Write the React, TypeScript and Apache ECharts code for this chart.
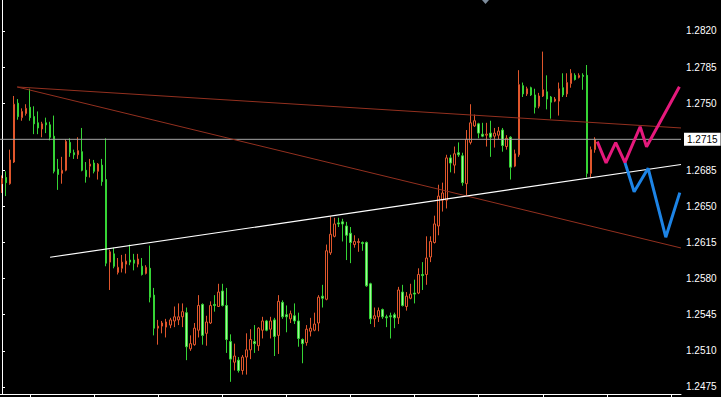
import React, { useEffect, useRef } from "react";
import * as echarts from "echarts";

// Candle prices (4-digit quotes), one per bar
const opens = [
  1.2672, 1.2678, 1.2672, 1.2693, 1.2750, 1.2736, 1.2740, 1.2746, 1.2737, 1.2731,
  1.2725, 1.2731, 1.2729, 1.2718, 1.2686, 1.2682, 1.2685, 1.2712, 1.2702, 1.2700,
  1.2703, 1.2685, 1.2689, 1.2692, 1.2684, 1.2690, 1.2676, 1.2596, 1.2604, 1.2586,
  1.2590, 1.2594, 1.2598, 1.2598, 1.2594, 1.2592, 1.2585, 1.2590, 1.2564, 1.2532,
  1.2534, 1.2533, 1.2535, 1.2539, 1.2540, 1.2543, 1.2547, 1.2512, 1.2516, 1.2530,
  1.2555, 1.2527, 1.2537, 1.2555, 1.2553, 1.2568, 1.2554, 1.2519, 1.2499, 1.2501,
  1.2491, 1.2504, 1.2511, 1.2519, 1.2515, 1.2530, 1.2539, 1.2531, 1.2540, 1.2525,
  1.2557, 1.2545, 1.2541, 1.2544, 1.2539, 1.2521, 1.2518, 1.2529, 1.2530, 1.2537,
  1.2563, 1.2560, 1.2605, 1.2621, 1.2634, 1.2635, 1.2631, 1.2624, 1.2613, 1.2615,
  1.2615, 1.2615, 1.2575, 1.2541, 1.2543, 1.2550, 1.2543, 1.2544, 1.2545, 1.2542,
  1.2567, 1.2553, 1.2561, 1.2566, 1.2566, 1.2584, 1.2584, 1.2601, 1.2615, 1.2631,
  1.2656, 1.2656, 1.2697, 1.2690, 1.2702, 1.2699, 1.2672, 1.2712, 1.2728, 1.2730,
  1.2720, 1.2719, 1.2721, 1.2718, 1.2719, 1.2724, 1.2708, 1.2717, 1.2689, 1.2700,
  1.2767, 1.2759, 1.2765, 1.2758, 1.2747, 1.2757, 1.2761, 1.2756, 1.2752, 1.2752,
  1.2765, 1.2759, 1.2769, 1.2777, 1.2775, 1.2777, 1.2777, 1.2682, 1.2705,
];
const closes = [
  1.2677, 1.2673, 1.2695, 1.2749, 1.2737, 1.2742, 1.2745, 1.2736, 1.2730, 1.2726,
  1.2730, 1.2729, 1.2717, 1.2684, 1.2681, 1.2685, 1.2713, 1.2702, 1.2700, 1.2704,
  1.2685, 1.2679, 1.2691, 1.2684, 1.2691, 1.2674, 1.2595, 1.2606, 1.2592, 1.2591,
  1.2596, 1.2597, 1.2596, 1.2595, 1.2599, 1.2584, 1.2591, 1.2562, 1.2532, 1.2534,
  1.2537, 1.2538, 1.2540, 1.2543, 1.2543, 1.2548, 1.2514, 1.2517, 1.2532, 1.2554,
  1.2525, 1.2538, 1.2554, 1.2554, 1.2567, 1.2554, 1.2521, 1.2502, 1.2505, 1.2491,
  1.2504, 1.2511, 1.2521, 1.2517, 1.2532, 1.2539, 1.2530, 1.2539, 1.2524, 1.2558,
  1.2543, 1.2543, 1.2546, 1.2539, 1.2522, 1.2517, 1.2531, 1.2532, 1.2536, 1.2562,
  1.2561, 1.2607, 1.2623, 1.2633, 1.2633, 1.2633, 1.2622, 1.2615, 1.2616, 1.2616,
  1.2614, 1.2573, 1.2541, 1.2544, 1.2549, 1.2543, 1.2542, 1.2543, 1.2542, 1.2569,
  1.2554, 1.2563, 1.2565, 1.2565, 1.2584, 1.2583, 1.2600, 1.2616, 1.2633, 1.2660,
  1.2663, 1.2697, 1.2692, 1.2701, 1.2700, 1.2673, 1.2715, 1.2731, 1.2733, 1.2721,
  1.2718, 1.2720, 1.2717, 1.2721, 1.2723, 1.2709, 1.2716, 1.2688, 1.2701, 1.2768,
  1.2759, 1.2764, 1.2758, 1.2746, 1.2757, 1.2763, 1.2754, 1.2751, 1.2754, 1.2764,
  1.2758, 1.2770, 1.2779, 1.2773, 1.2777, 1.2776, 1.2682, 1.2705, 1.2715,
];
const lows = [
  1.2663, 1.2660, 1.2671, 1.2692, 1.2734, 1.2733, 1.2738, 1.2733, 1.2720, 1.2720,
  1.2717, 1.2721, 1.2714, 1.2682, 1.2666, 1.2672, 1.2684, 1.2698, 1.2696, 1.2696,
  1.2684, 1.2673, 1.2678, 1.2682, 1.2676, 1.2670, 1.2592, 1.2569, 1.2590, 1.2584,
  1.2586, 1.2585, 1.2593, 1.2588, 1.2591, 1.2583, 1.2584, 1.2557, 1.2525, 1.2516,
  1.2527, 1.2523, 1.2532, 1.2533, 1.2535, 1.2533, 1.2501, 1.2510, 1.2515, 1.2523,
  1.2516, 1.2515, 1.2536, 1.2548, 1.2553, 1.2553, 1.2508, 1.2480, 1.2491, 1.2489,
  1.2487, 1.2487, 1.2502, 1.2508, 1.2510, 1.2522, 1.2529, 1.2522, 1.2505, 1.2507,
  1.2541, 1.2528, 1.2537, 1.2536, 1.2514, 1.2498, 1.2515, 1.2524, 1.2529, 1.2529,
  1.2552, 1.2559, 1.2603, 1.2620, 1.2630, 1.2616, 1.2598, 1.2595, 1.2610, 1.2606,
  1.2607, 1.2572, 1.2536, 1.2533, 1.2538, 1.2541, 1.2533, 1.2522, 1.2532, 1.2536,
  1.2553, 1.2549, 1.2560, 1.2556, 1.2565, 1.2569, 1.2574, 1.2596, 1.2614, 1.2622,
  1.2645, 1.2648, 1.2683, 1.2682, 1.2698, 1.2670, 1.2661, 1.2710, 1.2727, 1.2716,
  1.2717, 1.2708, 1.2698, 1.2707, 1.2715, 1.2703, 1.2705, 1.2676, 1.2688, 1.2698,
  1.2756, 1.2757, 1.2757, 1.2740, 1.2745, 1.2756, 1.2744, 1.2735, 1.2751, 1.2738,
  1.2756, 1.2756, 1.2765, 1.2772, 1.2774, 1.2763, 1.2678, 1.2678, 1.2702,
];
const highs = [
  1.2680, 1.2684, 1.2705, 1.2757, 1.2754, 1.2745, 1.2749, 1.2764, 1.2747, 1.2742,
  1.2732, 1.2736, 1.2732, 1.2738, 1.2696, 1.2698, 1.2715, 1.2716, 1.2705, 1.2717,
  1.2726, 1.2693, 1.2696, 1.2695, 1.2692, 1.2696, 1.2716, 1.2608, 1.2610, 1.2600,
  1.2603, 1.2604, 1.2613, 1.2604, 1.2604, 1.2600, 1.2593, 1.2612, 1.2571, 1.2540,
  1.2539, 1.2541, 1.2542, 1.2553, 1.2556, 1.2556, 1.2552, 1.2525, 1.2537, 1.2564,
  1.2556, 1.2544, 1.2558, 1.2564, 1.2575, 1.2575, 1.2571, 1.2526, 1.2517, 1.2504,
  1.2506, 1.2527, 1.2531, 1.2535, 1.2533, 1.2543, 1.2540, 1.2543, 1.2542, 1.2564,
  1.2559, 1.2554, 1.2549, 1.2556, 1.2547, 1.2522, 1.2535, 1.2542, 1.2547, 1.2564,
  1.2574, 1.2613, 1.2640, 1.2639, 1.2639, 1.2638, 1.2635, 1.2630, 1.2622, 1.2619,
  1.2616, 1.2616, 1.2576, 1.2552, 1.2552, 1.2551, 1.2545, 1.2547, 1.2547, 1.2572,
  1.2574, 1.2567, 1.2575, 1.2579, 1.2590, 1.2596, 1.2621, 1.2621, 1.2641, 1.2671,
  1.2673, 1.2700, 1.2700, 1.2708, 1.2712, 1.2702, 1.2724, 1.2749, 1.2739, 1.2731,
  1.2731, 1.2731, 1.2733, 1.2726, 1.2727, 1.2726, 1.2719, 1.2718, 1.2705, 1.2782,
  1.2770, 1.2766, 1.2766, 1.2764, 1.2760, 1.2800, 1.2777, 1.2757, 1.2756, 1.2770,
  1.2779, 1.2779, 1.2783, 1.2779, 1.2779, 1.2779, 1.2787, 1.2708, 1.2717,
];

const SLOT_COUNT = 170; // bars + empty right shift area
const currentPrice = 1.2715;
const yTickValues = [1.2475, 1.2510, 1.2545, 1.2580, 1.2615, 1.2650, 1.2685, 1.2750, 1.2785, 1.2820];
const Y_MIN = 1.24682;
const Y_MAX = 1.2850;

// Trend lines: [barIndex, price]
const resistanceLine = [[3.8, 1.27657], [169.5, 1.2726]];
const fanLine = [[3.8, 1.27657], [169.5, 1.26097]];
const supportLine = [[12, 1.26007], [169.5, 1.26906]];
const priceLine = [[-0.5, currentPrice], [169.5, currentPrice]];
// Forecast zigzags
const bullPath = [[148.6, 1.27127], [150.8, 1.26921], [153.2, 1.27117], [155.5, 1.26927], [159.3, 1.27272], [160.9, 1.27078], [169.1, 1.2766]];
const bearPath = [[155.5, 1.26927], [157.8, 1.26642], [161.3, 1.26869], [165.7, 1.26201], [169.2, 1.26633]];

export default function App() {
  const ref = useRef<HTMLDivElement>(null);
  useEffect(() => {
    if (!ref.current) return;
    const chart = echarts.init(ref.current, undefined, { renderer: "svg" });
    const slots = Array.from({ length: SLOT_COUNT }, (_, i) => String(i));
    const candles = opens.map((o, i) => [o, closes[i], lows[i], highs[i]]);
    const lineSeries = (data: number[][], color: string, width: number, extra: any = {}) => ({
      type: "line",
      xAxisIndex: 1,
      data,
      symbol: "none",
      showSymbol: false,
      silent: true,
      lineStyle: { color, width },
      z: 5,
      ...extra,
    });
    chart.setOption({
      animation: false,
      backgroundColor: "#000000",
      grid: { left: 0, right: 40, top: 0, bottom: 3, containLabel: false },
      xAxis: [
        {
          type: "category",
          data: slots,
          boundaryGap: true,
          axisLine: { show: true, lineStyle: { color: "#ffffff", width: 1 } },
          axisTick: {
            show: true,
            alignWithLabel: true,
            length: 3,
            interval: (i: number) => i >= 7 && (i - 7) % 16 === 0,
            lineStyle: { color: "#ffffff" },
          },
          axisLabel: { show: false },
          splitLine: { show: false },
        },
        { type: "value", min: -0.5, max: SLOT_COUNT - 0.5, show: false },
      ],
      yAxis: {
        type: "value",
        position: "right",
        min: Y_MIN,
        max: Y_MAX,
        axisLine: { show: true, lineStyle: { color: "#ffffff", width: 1 } },
        axisTick: { show: true, length: 3, customValues: yTickValues, lineStyle: { color: "#ffffff" } },
        axisLabel: {
          customValues: yTickValues,
          formatter: (v: number) => v.toFixed(4),
          color: "#ffffff",
          fontSize: 10,
          fontFamily: "Liberation Sans, Arial, sans-serif",
          margin: 5,
        },
        splitLine: { show: false },
      },
      series: [
        {
          type: "candlestick",
          data: candles,
          barWidth: 2,
          itemStyle: {
            color: "#000000",
            color0: "#a6f59e",
            borderColor: "#e0562c",
            borderColor0: "#35d435",
            borderWidth: 1,
          },
          z: 3,
        },
        lineSeries(priceLine, "#a6a6a6", 1, {
          z: 4,
          endLabel: {
            show: true,
            distance: 3,
            formatter: () => currentPrice.toFixed(4),
            backgroundColor: "#ffffff",
            color: "#000000",
            padding: [2, 3, 1, 3],
            fontSize: 10,
            fontFamily: "Liberation Sans, Arial, sans-serif",
          },
        }),
        lineSeries(resistanceLine, "#93301f", 1),
        lineSeries(fanLine, "#93301f", 1),
        lineSeries(supportLine, "#ffffff", 1.2),
        lineSeries(bearPath, "#1d84e6", 3),
        lineSeries(bullPath, "#e5197c", 3),
      ],
      graphic: [
        {
          type: "polygon",
          shape: { points: [[482, 0], [489, 0], [485.5, 4]] },
          style: { fill: "#7d8c9c" },
          silent: true,
        },
      ],
    });
    return () => chart.dispose();
  }, []);
  return (
    <div
      ref={ref}
      style={{ position: "fixed", left: 0, top: 0, width: 721, height: 397, background: "#000" }}
    />
  );
}
